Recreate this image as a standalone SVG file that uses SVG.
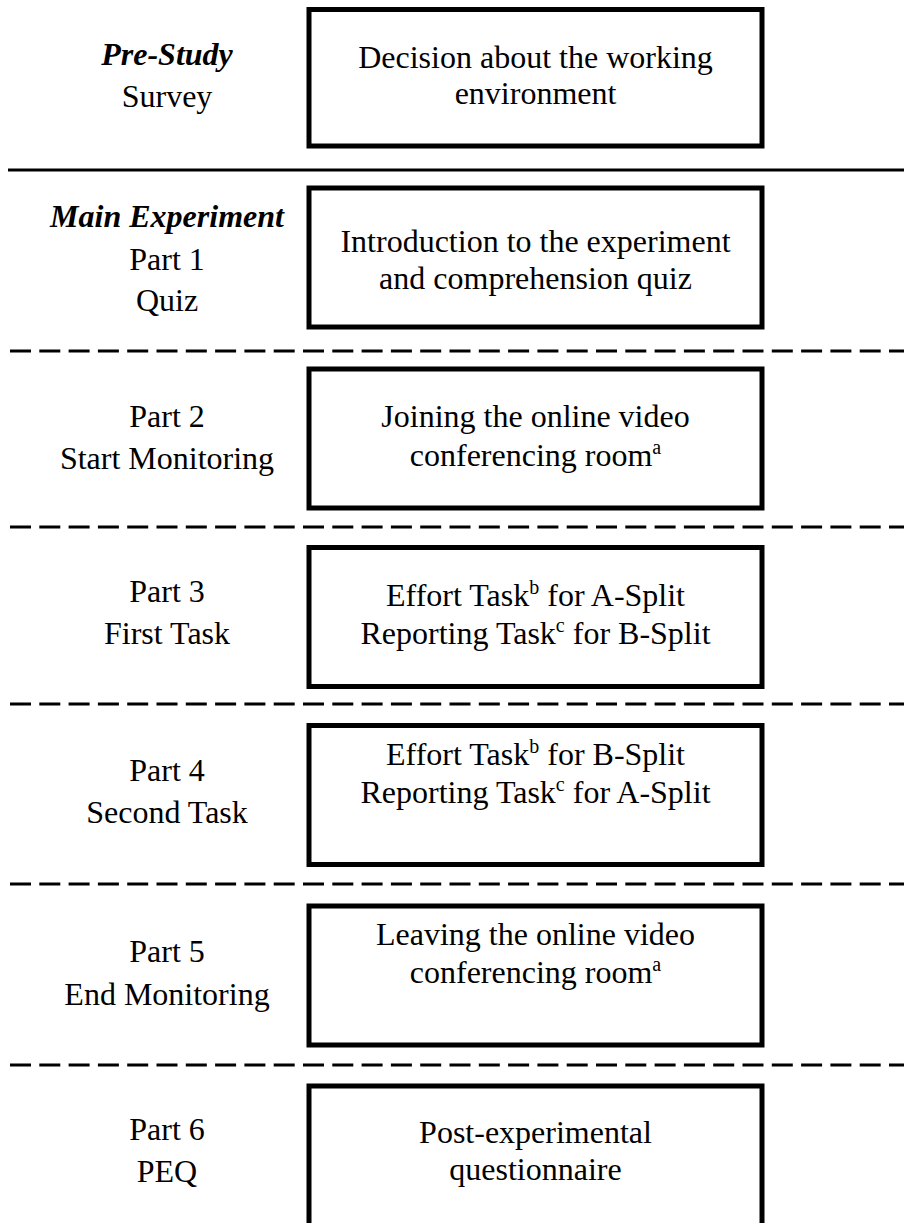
<svg xmlns="http://www.w3.org/2000/svg" width="904" height="1223" viewBox="0 0 904 1223">
<style>
.box{fill:#fff;stroke:#000;stroke-width:5}
text{font-family:"Liberation Serif","Times New Roman",serif;font-size:32px;fill:#000;text-anchor:middle}
.h{font-weight:bold;font-style:italic}
.sep{stroke:#000;stroke-width:3;fill:none}
.dash{stroke-dasharray:21 8.3}
.sup{font-size:20px}
</style>
<rect width="904" height="1223" fill="#fff"/>
<g id="separators">
<line class="sep" x1="8" y1="170" x2="904" y2="170"/>
<line class="sep dash" x1="10" y1="351" x2="904" y2="351"/>
<line class="sep dash" x1="10" y1="527" x2="904" y2="527"/>
<line class="sep dash" x1="10" y1="704" x2="904" y2="704"/>
<line class="sep dash" x1="10" y1="884" x2="904" y2="884"/>
<line class="sep dash" x1="10" y1="1065" x2="904" y2="1065"/>
</g>
<g id="label-prestudy">
<text class="h" x="167" y="65">Pre-Study</text>
<text x="167" y="107">Survey</text>
</g>
<g id="node-decision">
<rect class="box" x="309" y="9.5" width="453" height="136.5"/>
<text x="535.5" y="68">Decision about the working</text>
<text x="535.5" y="104">environment</text>
</g>
<g id="label-part1">
<text class="h" x="167" y="227">Main Experiment</text>
<text x="167" y="270">Part 1</text>
<text x="167" y="311">Quiz</text>
</g>
<g id="node-intro">
<rect class="box" x="309" y="188" width="453" height="139"/>
<text x="535.5" y="252">Introduction to the experiment</text>
<text x="535.5" y="289">and comprehension quiz</text>
</g>
<g id="label-part2">
<text x="167" y="427">Part 2</text>
<text x="167" y="469">Start Monitoring</text>
</g>
<g id="node-join">
<rect class="box" x="309" y="369" width="453" height="139"/>
<text x="535.5" y="427">Joining the online video</text>
<text x="535.5" y="466">conferencing room<tspan class="sup" dy="-12">a</tspan></text>
</g>
<g id="label-part3">
<text x="167" y="602">Part 3</text>
<text x="167" y="644">First Task</text>
</g>
<g id="node-task1">
<rect class="box" x="309" y="547.5" width="453" height="139"/>
<text x="535.5" y="606">Effort Task<tspan class="sup" dy="-12">b</tspan><tspan dy="12"> for A-Split</tspan></text>
<text x="535.5" y="644">Reporting Task<tspan class="sup" dy="-12">c</tspan><tspan dy="12"> for B-Split</tspan></text>
</g>
<g id="label-part4">
<text x="167" y="781">Part 4</text>
<text x="167" y="823">Second Task</text>
</g>
<g id="node-task2">
<rect class="box" x="309" y="725.5" width="453" height="139"/>
<text x="535.5" y="765">Effort Task<tspan class="sup" dy="-12">b</tspan><tspan dy="12"> for B-Split</tspan></text>
<text x="535.5" y="803">Reporting Task<tspan class="sup" dy="-12">c</tspan><tspan dy="12"> for A-Split</tspan></text>
</g>
<g id="label-part5">
<text x="167" y="962">Part 5</text>
<text x="167" y="1005">End Monitoring</text>
</g>
<g id="node-leave">
<rect class="box" x="309" y="906" width="453" height="139"/>
<text x="535.5" y="945">Leaving the online video</text>
<text x="535.5" y="983">conferencing room<tspan class="sup" dy="-12">a</tspan></text>
</g>
<g id="label-part6">
<text x="167" y="1140">Part 6</text>
<text x="167" y="1182">PEQ</text>
</g>
<g id="node-peq">
<rect class="box" x="309" y="1086" width="453" height="160"/>
<text x="535.5" y="1143">Post-experimental</text>
<text x="535.5" y="1180">questionnaire</text>
</g>
</svg>
